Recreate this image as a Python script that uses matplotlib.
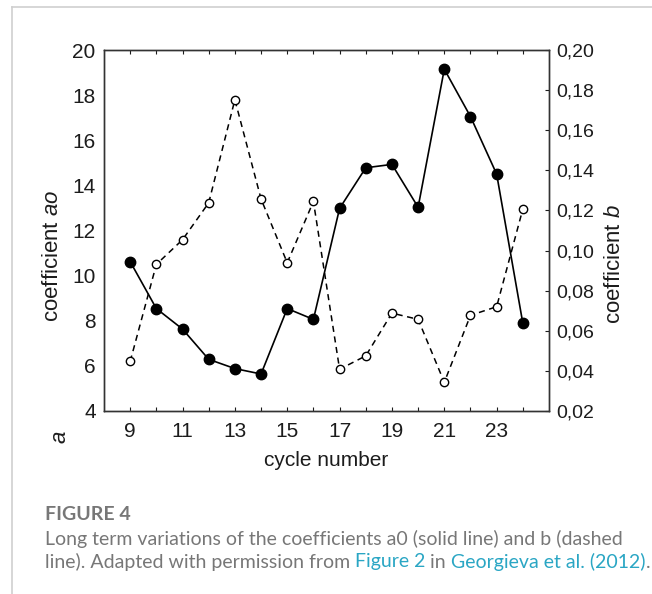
import matplotlib
matplotlib.use("Agg")
import matplotlib.pyplot as plt
from matplotlib.lines import Line2D
from matplotlib.ticker import FuncFormatter

# solar cycle numbers and the two fitted coefficients
cycles = [9, 10, 11, 12, 13, 14, 15, 16, 17, 18, 19, 20, 21, 22, 23, 24]
a0 = [10.62, 8.54, 7.63, 6.29, 5.88, 5.64, 8.54, 8.06,
      12.98, 14.78, 14.93, 13.03, 19.15, 17.05, 14.5, 7.89]
b = [0.0447, 0.0931, 0.1054, 0.1238, 0.1752, 0.1257, 0.0939, 0.1245,
     0.0408, 0.0475, 0.0688, 0.0657, 0.0343, 0.0677, 0.0720, 0.1207]

left_ticks = [4, 6, 8, 10, 12, 14, 16, 18, 20]
right_ticks = [0.02, 0.04, 0.06, 0.08, 0.10, 0.12, 0.14, 0.16, 0.18, 0.20]

plt.rcParams["font.family"] = ["Liberation Sans", "DejaVu Sans"]
plt.rcParams["mathtext.fontset"] = "custom"
plt.rcParams["mathtext.rm"] = "Liberation Sans"
plt.rcParams["mathtext.it"] = "Liberation Sans:italic"

W, H = 652, 594
fig = plt.figure(figsize=(W / 100, H / 100), dpi=100)
fig.patch.set_facecolor("white")

ink = "#1c1c1c"

# light frame around the figure panel
fig.add_artist(Line2D([12 / W, 1], [1 - 7 / H, 1 - 7 / H], color="#cfcfcf", lw=1.2))
fig.add_artist(Line2D([12 / W, 12 / W], [0, 1 - 7 / H], color="#cfcfcf", lw=1.2))

ax = fig.add_axes([104 / W, 1 - 411 / H, (549 - 104) / W, (411 - 50) / H])
ax2 = ax.twinx()

ax.plot(cycles, a0, color="black", lw=1.2, marker="o", ms=7.5,
        mfc="black", mec="black", zorder=3)
ax2.plot(cycles, b, color="black", lw=1.1, ls=(0, (4, 3)), marker="o", ms=6,
         mfc="white", mec="black", mew=1.0, zorder=3)

ax.set_xlim(8, 25)
ax.set_ylim(4, 20)
ax2.set_ylim(0.02, 0.20)

ax.set_xticks(cycles)
ax.set_xticklabels([str(c) if c % 2 == 1 else "" for c in cycles])
ax.set_yticks(left_ticks)
ax2.set_yticks(right_ticks)
ax2.yaxis.set_major_formatter(FuncFormatter(lambda v, p: f"{v:.2f}".replace(".", ",")))

ax.tick_params(axis="x", direction="in", length=3, top=True, bottom=True,
               labelsize=15, pad=8, colors=ink)
ax.tick_params(axis="y", length=0, labelsize=15, pad=6, colors=ink)
ax2.tick_params(axis="y", direction="in", length=3, labelsize=14, pad=5, colors=ink)

for a in (ax, ax2):
    for s in a.spines.values():
        s.set_linewidth(1.0)
        s.set_color("#333333")

ax.set_xlabel("cycle number", fontsize=15, color=ink, labelpad=7)
fig.text(53 / W, 1 - 256 / H, r"coefficient $\mathit{ao}$", rotation=90,
         fontsize=16, color=ink, ha="center", va="center")
fig.text(615 / W, 1 - 264 / H, r"coefficient $\mathit{b}$", rotation=90,
         fontsize=16, color=ink, ha="center", va="center")
fig.text(60 / W, 1 - 437 / H, r"$\mathit{a}$", rotation=90,
         fontsize=16, color=ink, ha="center", va="center")

# caption below the chart
grey = "#777777"
teal = "#2aa6c4"
cap_font = ["Lato", "DejaVu Sans"]
fig.text(45 / W, 1 - 514 / H, "FIGURE 4", fontsize=14, fontweight="bold",
         color=grey, family=cap_font, va="center")
fig.text(45 / W, 1 - 539 / H,
         "Long term variations of the coefficients a0 (solid line) and b (dashed",
         fontsize=14, color=grey, family=cap_font, va="center")

pieces = [("line). Adapted with permission from ", grey), ("Figure 2", teal),
          (" in ", grey), ("Georgieva et al. (2012)", teal), (".", grey)]
renderer = fig.canvas.get_renderer()
x = 45
for txt, col in pieces:
    t = fig.text(x / W, 1 - 562 / H, txt, fontsize=14, color=col,
                 family=cap_font, va="center")
    x = t.get_window_extent(renderer).x1

fig.savefig("out.png", dpi=100)
